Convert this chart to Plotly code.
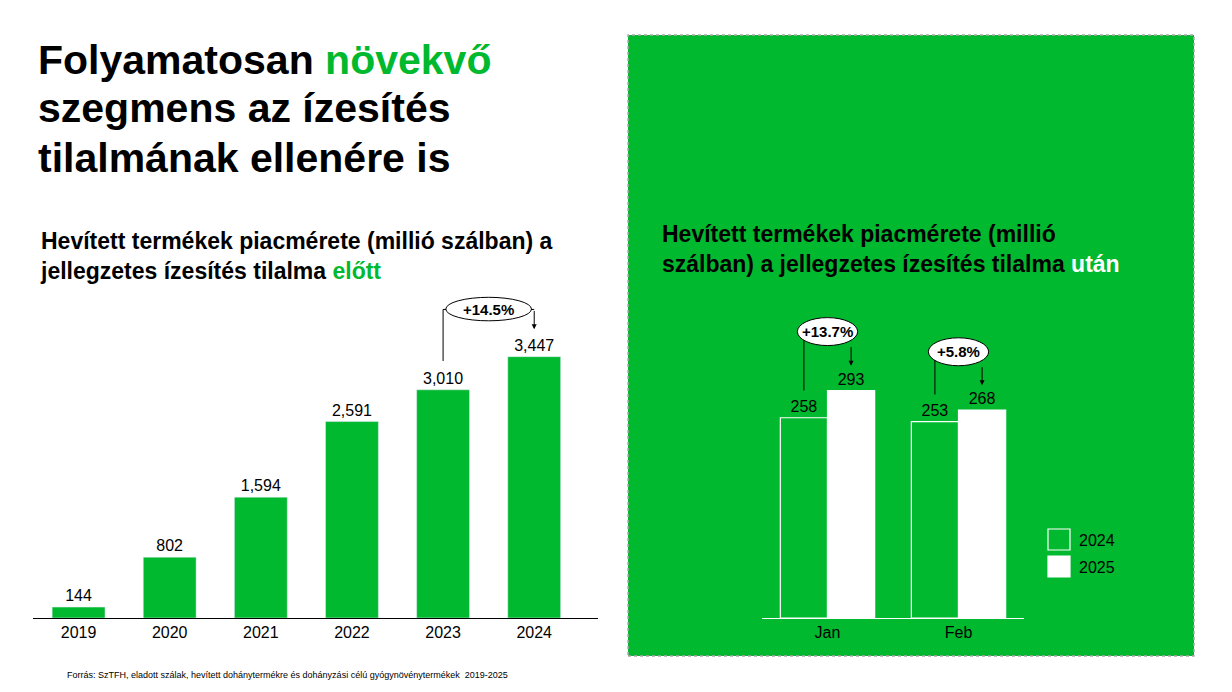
import plotly.graph_objects as go

W, H = 1232, 692
OFF = 8  # page body margin
GREEN = "#00B92E"

years = ["2019", "2020", "2021", "2022", "2023", "2024"]
market = [144, 802, 1594, 2591, 3010, 3447]

months = ["Jan", "Feb"]
y2024 = [258, 253]
y2025 = [293, 268]
growth_left = "+14.5%"
growth_right = ["+13.7%", "+5.8%"]

def px(x):
    return (x - OFF) / W

def py(y):
    return 1 - (y - OFF) / H

fig = go.Figure()

fig.add_trace(go.Bar(
    x=years, y=market, marker_color=GREEN, width=0.58,
    text=[f"{v:,}" for v in market], textposition="outside",
    textfont=dict(size=16, color="black"), cliponaxis=False,
    showlegend=False, xaxis="x", yaxis="y"))

fig.add_trace(go.Bar(
    x=months, y=y2024, name="2024", marker=dict(color=GREEN, line=dict(color="white", width=1.2)),
    text=[str(v) for v in y2024], textposition="outside",
    textfont=dict(size=16, color="black"), cliponaxis=False,
    showlegend=False, xaxis="x2", yaxis="y2"))
fig.add_trace(go.Bar(
    x=months, y=y2025, name="2025", marker=dict(color="white", line=dict(color="white", width=1.2)),
    text=[str(v) for v in y2025], textposition="outside",
    textfont=dict(size=16, color="black"), cliponaxis=False,
    showlegend=False, xaxis="x2", yaxis="y2"))

shapes = [
    dict(type="rect", xref="paper", yref="paper", x0=px(628), x1=px(1194), y0=py(656), y1=py(35),
         fillcolor=GREEN, line=dict(color="#AAAAAA", width=1.5, dash="dot"), layer="below"),
    # custom legend
    dict(type="rect", xref="paper", yref="paper", x0=px(1048), x1=px(1070), y0=py(550), y1=py(529),
         fillcolor=GREEN, line=dict(color="white", width=1.2)),
    dict(type="rect", xref="paper", yref="paper", x0=px(1048), x1=px(1070), y0=py(577), y1=py(556),
         fillcolor="white", line=dict(color="white", width=1.2)),
]

i0, i1 = 4, 5
shapes += [
    dict(type="line", xref="x", yref="y", x0=i0, x1=i0, y0=3390, y1=4070, line=dict(color="black", width=1)),
    dict(type="line", xref="x", yref="y", x0=i0, x1=i0 + 0.1, y0=4070, y1=4070, line=dict(color="black", width=1)),
    dict(type="line", xref="x", yref="y", x0=i1 - 0.1, x1=i1, y0=4070, y1=4070, line=dict(color="black", width=1)),
    dict(type="circle", xref="x", yref="y", x0=i0 + 0.03, x1=i1 - 0.03, y0=3920, y1=4230,
         fillcolor="white", line=dict(color="black", width=1)),
]
annotations = [
    dict(x=i1, y=3810, ax=i1, ay=4070, xref="x", yref="y", axref="x", ayref="y", text="",
         showarrow=True, arrowhead=2, arrowsize=1, arrowwidth=1, arrowcolor="black"),
    dict(x=(i0 + i1) / 2, y=4075, xref="x", yref="y", text="<b>" + growth_left + "</b>",
         showarrow=False, font=dict(size=15, color="black")),
]

ylev = [369, 343]
for k, m in enumerate(months):
    a, b = k - 0.18, k + 0.18
    yl = ylev[k]
    shapes += [
        dict(type="line", xref="x2", yref="y2", x0=a, x1=a, y0=y2024[k] + 35, y1=yl, line=dict(color="black", width=1)),
        dict(type="circle", xref="x2", yref="y2", x0=a - 0.05, x1=b + 0.05, y0=yl - 18, y1=yl + 18,
             fillcolor="white", line=dict(color="black", width=1)),
    ]
    annotations += [
        dict(x=b, y=y2025[k] + 32, ax=b, ay=yl - 18, xref="x2", yref="y2", axref="x2", ayref="y2", text="",
             showarrow=True, arrowhead=2, arrowsize=1, arrowwidth=1, arrowcolor="black"),
        dict(x=k, y=yl, xref="x2", yref="y2", text="<b>" + growth_right[k] + "</b>",
             showarrow=False, font=dict(size=15, color="black")),
    ]

def txt(x, y, s, size, **kw):
    annotations.append(dict(x=px(x), y=py(y), xref="paper", yref="paper", text=s, showarrow=False,
                            xanchor="left", yanchor="middle", align="left",
                            font=dict(size=size, color=kw.get("color", "black"))))

txt(36, 60, "<b>Folyamatosan <span style='color:#00B92E'>növekvő</span></b>", 41)
txt(36, 108, "<b>szegmens az ízesítés</b>", 41)
txt(36, 158, "<b>tilalmának ellenére is</b>", 41)
txt(38, 256, "<b>Hevített termékek piacmérete (millió szálban) a<br>jellegzetes ízesítés tilalma "
              "<span style='color:#00B92E'>előtt</span></b>", 23)
txt(660, 249, "<b>Hevített termékek piacmérete (millió<br>szálban) a jellegzetes ízesítés tilalma "
              "<span style='color:white'>után</span></b>", 23)
txt(65, 675, "Forrás: SzTFH, eladott szálak, hevített dohánytermékre és dohányzási célú gyógynövénytermékek  2019-2025", 9)
txt(1077, 540, "2024", 16)
txt(1077, 567, "2025", 16)

fig.update_layout(
    width=W, height=H, margin=dict(l=0, r=0, t=0, b=0),
    paper_bgcolor="white", plot_bgcolor="rgba(0,0,0,0)",
    font=dict(family="Liberation Sans, Arial, sans-serif", color="black"),
    barmode="group", bargap=0.28, bargroupgap=0, showlegend=False,
    shapes=shapes, annotations=annotations,
    xaxis=dict(domain=[px(33), px(598)], showline=True, linecolor="black", linewidth=1,
               ticks="", tickfont=dict(size=16), fixedrange=True, range=[-0.5, 5.7]),
    yaxis=dict(domain=[py(618), py(292)], range=[0, 4300], visible=False, showgrid=False),
    xaxis2=dict(domain=[px(762), px(1024)], anchor="y2", showline=True, linecolor="white", linewidth=1,
                ticks="", tickfont=dict(size=16)),
    yaxis2=dict(domain=[py(618), py(292)], range=[0, 420], visible=False, showgrid=False, anchor="x2"),
)

fig.write_html("out.html")
